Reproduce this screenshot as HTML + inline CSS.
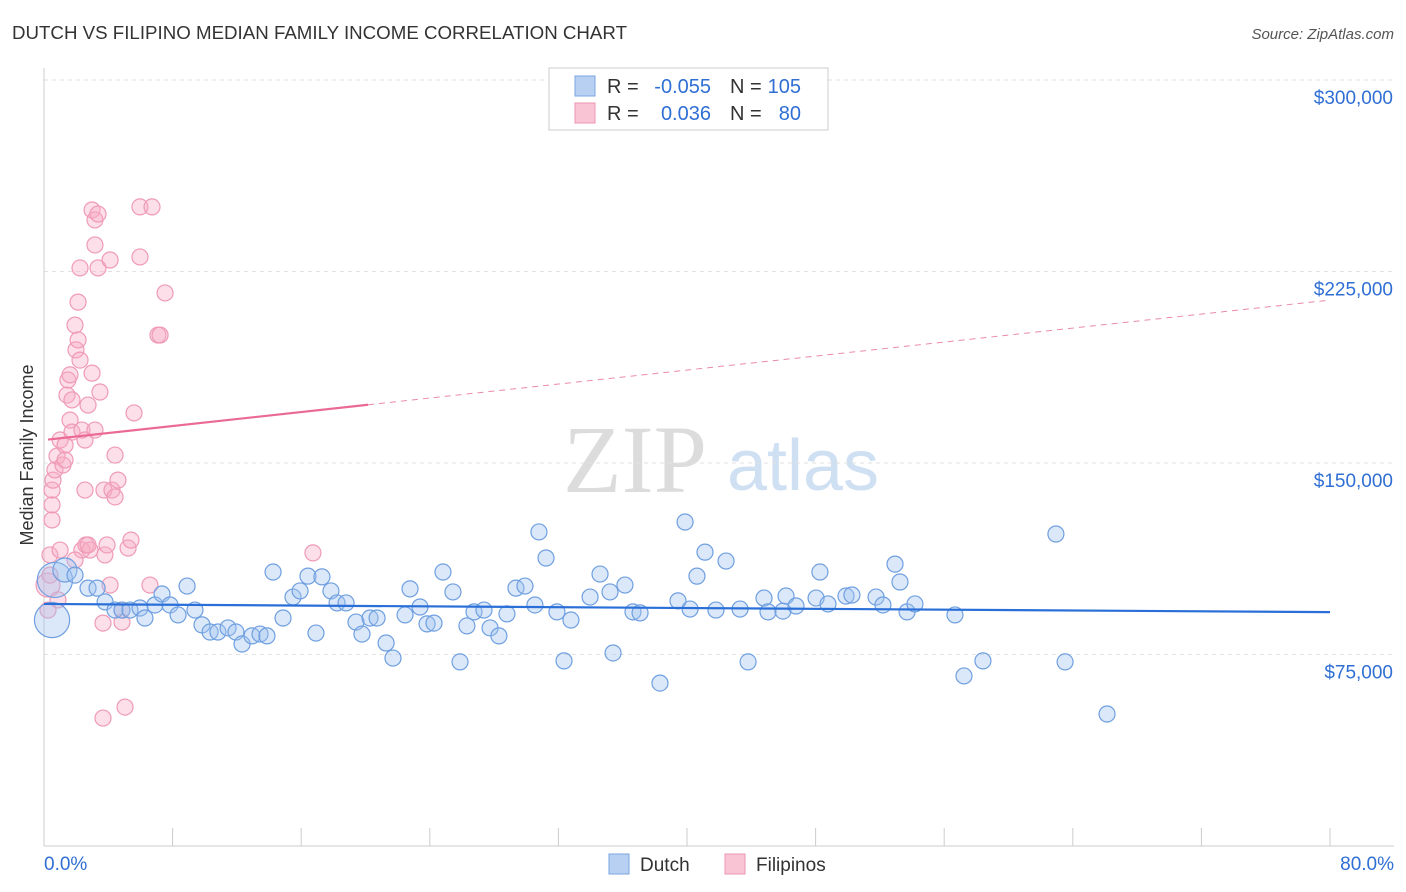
<!DOCTYPE html>
<html><head><meta charset="utf-8">
<style>
body{margin:0;background:#fff;font-family:"Liberation Sans",sans-serif;}
#wrap{position:relative;width:1406px;height:892px;overflow:hidden;}
</style></head>
<body>
<div id="wrap">
<svg id="chart" width="1406" height="892" xmlns="http://www.w3.org/2000/svg">
<text x="12" y="39" font-size="18.7" fill="#333" textLength="615">DUTCH VS FILIPINO MEDIAN FAMILY INCOME CORRELATION CHART</text>
<text x="1394" y="39" font-size="15" fill="#555" font-style="italic" text-anchor="end">Source: ZipAtlas.com</text>
<text x="33" y="455" font-size="18" fill="#333" text-anchor="middle" transform="rotate(-90 33 455)">Median Family Income</text>
<g>
<text x="635" y="492" font-size="96" fill="#dcdcdc" font-family="Liberation Serif,serif" text-anchor="middle">ZIP</text>
<text x="803" y="490" font-size="72" fill="#cfe0f3" text-anchor="middle">atlas</text>
</g>
<g id="grid"></g><g id="marks"></g>
<g font-size="20">
<rect x="549" y="68" width="279" height="62" fill="#fff" stroke="#ccc"/>
<rect x="575" y="76" width="20" height="20" fill="#b8d1f3" stroke="#7aa6e0"/>
<rect x="575" y="103" width="20" height="20" fill="#f9c5d5" stroke="#ec95b2"/>
<text x="607" y="93" fill="#333">R =</text>
<text x="711" y="93" fill="#2f6fd4" text-anchor="end">-0.055</text>
<text x="730" y="93" fill="#333">N =</text>
<text x="801" y="93" fill="#2f6fd4" text-anchor="end">105</text>
<text x="607" y="120" fill="#333">R =</text>
<text x="711" y="120" fill="#2f6fd4" text-anchor="end">0.036</text>
<text x="730" y="120" fill="#333">N =</text>
<text x="801" y="120" fill="#2f6fd4" text-anchor="end">80</text>
</g>
<g>
<rect x="609" y="854" width="20" height="20" fill="#b8d1f3" stroke="#7aa6e0"/>
<text x="640" y="871" font-size="19" fill="#333">Dutch</text>
<rect x="725" y="854" width="20" height="20" fill="#f9c5d5" stroke="#ec95b2"/>
<text x="756" y="871" font-size="19" fill="#333">Filipinos</text>
</g>
</svg>
</div>
<script>
const yTicks=[75000,150000,225000,300000];
const yTickLabels=["$75,000","$150,000","$225,000","$300,000"];
const xEndLabels=["0.0%","80.0%"];
const dutchX=[0.68,0.5,1.3,1.93,2.74,3.3,3.8,4.42,4.85,5.35,5.97,6.28,6.9,7.34,7.84,8.34,8.9,9.39,9.83,10.33,10.82,11.45,11.94,12.32,12.94,13.44,13.87,14.25,14.87,15.49,15.93,16.42,16.92,17.29,17.85,18.23,18.79,19.41,19.78,20.28,20.72,21.28,21.71,22.46,22.77,23.39,23.83,24.26,24.82,25.44,25.88,26.31,26.75,27.37,27.75,28.3,28.8,29.36,29.92,30.54,30.79,31.23,31.91,32.35,32.78,33.97,34.59,35.21,35.4,36.14,36.64,37.08,38.32,39.44,39.88,40.19,40.62,41.12,41.8,42.43,43.3,43.8,44.79,45.04,45.97,46.16,46.78,48.03,48.27,48.77,49.89,50.26,51.76,52.19,52.94,53.25,53.69,54.18,56.67,57.23,58.41,62.95,63.52,66.13];
const dutchY=[104.2,88.5,108.1,106.1,101,101,95.6,92.4,92.4,92.4,93.2,89.3,94.4,98.7,94.4,90.5,101.8,92.4,86.6,83.8,83.8,85.4,83.8,79.1,82.3,83,82.3,107.3,89.3,97.5,99.9,105.7,83.4,105.4,99.9,95.2,95.2,87.7,83,89.3,89.3,79.5,73.6,90.5,100.7,93.6,87,87.3,107.3,99.5,72.1,86.2,91.7,92.4,85.4,82.3,90.9,101,101.8,94.4,123,112.8,91.7,72.5,88.5,97.5,106.5,99.5,75.6,102.2,91.7,91.3,63.8,96,126.9,92.8,105.7,115.1,92.4,111.6,92.8,72.1,97.1,91.7,92,97.9,94,97.1,107.3,94.8,97.9,98.3,97.5,94.4,110.4,103.4,91.7,94.8,90.5,66.6,72.5,122.2,72.1,51.7];
const dutchSize=[2.2,2.2,1.5];
const filX=[0.25,0.25,0.37,0.37,0.5,0.5,0.5,0.56,0.68,0.81,1,1.18,1.31,1.43,1.49,1.62,1.74,1.74,1.93,1.99,2.12,2.24,2.36,2.55,2.55,2.74,2.12,2.24,2.36,2.61,2.86,2.99,3.17,3.17,3.36,3.36,3.48,3.67,3.67,3.73,3.79,3.92,4.11,4.11,4.23,4.42,4.6,4.85,4.85,5.04,5.23,5.41,5.6,5.97,5.97,6.59,6.72,7.09,7.22,7.53,4.42,1.62,2.99,3.17,1,0.87,16.73,1.31,1.93,2.74];
const filY=[102.2,92.4,106.1,114,127.7,133.6,139.4,143.3,147.3,152.7,159,149.2,157,176.6,182.5,166.8,174.7,162.1,204,194.3,198.2,190.3,162.9,159,139.4,172.7,213,226.4,115.9,117.9,115.9,249.1,245.2,235.4,247.5,226.4,177.8,87.3,50.1,139.4,114,117.9,229.5,102.2,139.4,136.7,143.3,92.4,87.7,54.4,116.7,119.8,169.6,250.3,230.7,102.2,250.3,200.1,200.1,216.6,153.1,184.5,185.2,162.9,115.9,96.4,114.8,151.2,112,117.9];
const filSize=[1.5];
const dutchTrend=[94.8,91.6];
const filTrend=[159.0,213.8];
const filSolidEnd=20.16;

const NS="http://www.w3.org/2000/svg";
const xs=v=>44+v*16.075;
const ys=v=>846-v/75000*191.5;
const yk=v=>ys(v*1000);
const grid=document.getElementById('grid'),marks=document.getElementById('marks');
function mk(tag,attrs,parent){const e=document.createElementNS(NS,tag);for(const k in attrs)e.setAttribute(k,attrs[k]);parent.appendChild(e);return e;}
yTicks.forEach((t,i)=>{
  const l=mk('line',{x1:44,x2:1394,y1:ys(t),y2:ys(t),stroke:'#e2e2e2','stroke-dasharray':'4 4'},grid);
  
  
  const tx=mk('text',{x:1393,y:ys(t)+24,'font-size':19,fill:'#2f6fd4','text-anchor':'end'},grid);
  tx.textContent=yTickLabels[i];
  
  
});
const ax=mk('line',{x1:44,x2:1394,y1:846,y2:846,stroke:'#ccc'},grid);


const ay=mk('line',{x1:44,x2:44,y1:68,y2:846,stroke:'#ccc'},grid);


for(let i=0;i<=10;i++){
  const t=mk('line',{x1:xs(i*8),x2:xs(i*8),y1:828,y2:846,stroke:'#ccc'},grid);
  
  
}
xEndLabels.forEach((s,i)=>{
  const t=mk('text',{x:i?1394:44,y:870,'font-size':19,fill:'#2f6fd4','text-anchor':i?'end':'start'},grid);
  t.textContent=s;
  
  
});
filX.forEach((x,i)=>{
  const c=mk('circle',{cx:xs(x),cy:yk(filY[i]),r:8*(filSize[i]||1),fill:'rgba(246,170,195,0.38)',stroke:'#ef9ab6','stroke-width':1.2},marks);
  
  
});
dutchX.forEach((x,i)=>{
  const c=mk('circle',{cx:xs(x),cy:yk(dutchY[i]),r:8*(dutchSize[i]||1),fill:'rgba(160,195,240,0.38)',stroke:'#6f9fe0','stroke-width':1.2},marks);
  
  
});
const dl=mk('line',{x1:xs(0),y1:yk(dutchTrend[0]),x2:xs(80),y2:yk(dutchTrend[1]),stroke:'#2a6fd8','stroke-width':2.2},marks);


const fy=x=>filTrend[0]+(filTrend[1]-filTrend[0])*x/80;
const fl=mk('line',{x1:xs(0.25),y1:yk(fy(0.25)),x2:xs(filSolidEnd),y2:yk(fy(filSolidEnd)),stroke:'#ea6a95','stroke-width':2.2},marks);


const fd=mk('line',{x1:xs(filSolidEnd),y1:yk(fy(filSolidEnd)),x2:xs(80),y2:yk(fy(80)),stroke:'#ea8aab','stroke-width':1,'stroke-dasharray':'6 5'},marks);


</script>
</body></html>
